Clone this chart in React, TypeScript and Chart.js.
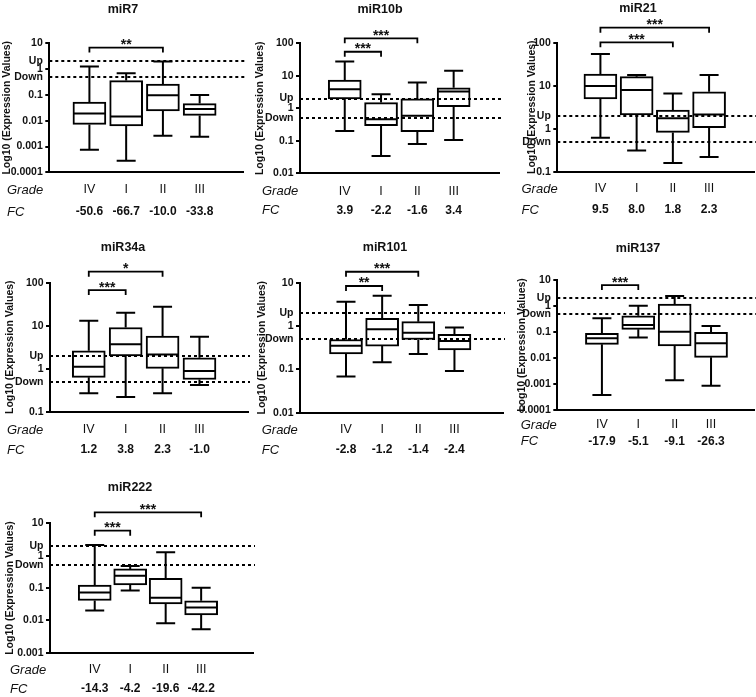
import React, { useEffect, useRef } from 'react';
import { Chart, registerables } from 'chart.js';

Chart.register(...registerables);

const FONT = 'Arial, "Liberation Sans", sans-serif';
Chart.defaults.font.family = FONT;
Chart.defaults.color = '#111';

const GRADES = ['IV', 'I', 'II', 'III'];
const UP = 2;
const DOWN = 0.5;
const Y_TITLE = 'Log10 (Expression Values)';

// miR7
const MIR7_MIN = [0.00074, 0.00028, 0.0026, 0.0024];
const MIR7_Q1 = [0.0072, 0.0063, 0.024, 0.016];
const MIR7_MED = [0.019, 0.0144, 0.096, 0.0285];
const MIR7_Q3 = [0.053, 0.36, 0.26, 0.046];
const MIR7_MAX = [1.25, 0.69, 1.95, 0.1];
const MIR7_FC = ['-50.6', '-66.7', '-10.0', '-33.8'];
const MIR7_TICKS = [0.0001, 0.001, 0.01, 0.1, 1, 10];
const MIR7_SIG: [number, number, number, string][] = [[0, 2, 6.8, '**']];

// miR10b
const MIR10B_MIN = [0.2, 0.034, 0.08, 0.106];
const MIR10B_Q1 = [1.94, 0.29, 0.19, 1.12];
const MIR10B_MED = [3.85, 0.46, 0.59, 3.26];
const MIR10B_Q3 = [7.4, 1.5, 1.94, 4.3];
const MIR10B_MAX = [27.3, 2.7, 6.2, 14.4];
const MIR10B_FC = ['3.9', '-2.2', '-1.6', '3.4'];
const MIR10B_TICKS = [0.01, 0.1, 1, 10, 100];
const MIR10B_SIG: [number, number, number, string][] = [[0, 1, 55, '***'], [0, 2, 142, '***']];

// miR21
const MIR21_MIN = [0.62, 0.31, 0.16, 0.22];
const MIR21_Q1 = [4.9, 2.08, 0.82, 1.05];
const MIR21_MED = [9.8, 7.9, 1.74, 2.15];
const MIR21_Q3 = [18.7, 16.2, 2.7, 7.2];
const MIR21_MAX = [54.5, 17.7, 6.6, 17.7];
const MIR21_FC = ['9.5', '8.0', '1.8', '2.3'];
const MIR21_TICKS = [0.1, 1, 10, 100];
const MIR21_SIG: [number, number, number, string][] = [[0, 2, 102, '***'], [0, 3, 223, '***']];

// miR34a
const MIR34A_MIN = [0.27, 0.22, 0.27, 0.42];
const MIR34A_Q1 = [0.63, 1.97, 1.02, 0.56];
const MIR34A_MED = [1.11, 3.7, 2.15, 0.88];
const MIR34A_Q3 = [2.6, 9.1, 5.75, 1.8];
const MIR34A_MAX = [13.1, 20, 27.7, 5.5];
const MIR34A_FC = ['1.2', '3.8', '2.3', '-1.0'];
const MIR34A_TICKS = [0.1, 1, 10, 100];
const MIR34A_SIG: [number, number, number, string][] = [[0, 1, 67.5, '***'], [0, 2, 180, '*']];

// miR101
const MIR101_MIN = [0.068, 0.145, 0.226, 0.092];
const MIR101_Q1 = [0.226, 0.345, 0.49, 0.28];
const MIR101_MED = [0.35, 0.84, 0.7, 0.45];
const MIR101_Q3 = [0.49, 1.5, 1.26, 0.64];
const MIR101_MAX = [3.65, 5.0, 3.05, 0.93];
const MIR101_FC = ['-2.8', '-1.2', '-1.4', '-2.4'];
const MIR101_TICKS = [0.01, 0.1, 1, 10];
const MIR101_SIG: [number, number, number, string][] = [[0, 1, 8.4, '**'], [0, 2, 17.9, '***']];

// miR137
const MIR137_MIN = [0.00038, 0.062, 0.0014, 0.00086];
const MIR137_Q1 = [0.0336, 0.127, 0.029, 0.0106];
const MIR137_MED = [0.057, 0.186, 0.103, 0.037];
const MIR137_Q3 = [0.089, 0.42, 1.19, 0.097];
const MIR137_MAX = [0.336, 1.03, 2.4, 0.17];
const MIR137_FC = ['-17.9', '-5.1', '-9.1', '-26.3'];
const MIR137_TICKS = [0.0001, 0.001, 0.01, 0.1, 1, 10];
const MIR137_SIG: [number, number, number, string][] = [[0, 1, 6.4, '***']];

// miR222
const MIR222_MIN = [0.02, 0.083, 0.0081, 0.0053];
const MIR222_Q1 = [0.041, 0.124, 0.032, 0.0146];
const MIR222_MED = [0.072, 0.24, 0.05, 0.025];
const MIR222_Q3 = [0.124, 0.39, 0.2, 0.04];
const MIR222_MAX = [2.14, 0.48, 1.27, 0.102];
const MIR222_FC = ['-14.3', '-4.2', '-19.6', '-42.2'];
const MIR222_TICKS = [0.001, 0.01, 0.1, 1, 10];
const MIR222_SIG: [number, number, number, string][] = [[0, 1, 5.9, '***'], [0, 3, 21.9, '***']];

type Geom = {
  cl: number; ct: number; cw: number; ch: number;
  axisLeft: number; axisRight: number; plotTop: number; plotBottom: number;
  firstCenter: number; spacing: number;
  titleX: number; titleY: number; gradeY: number; fcY: number;
  yTitleX: number; gradeLabelX: number;
};

type PanelDef = {
  name: string;
  mins: number[]; q1s: number[]; meds: number[]; q3s: number[]; maxs: number[];
  fc: string[]; ticks: number[]; sig: [number, number, number, string][];
  geom: Geom;
};

const PANELS: PanelDef[] = [
  {
    name: 'miR7', mins: MIR7_MIN, q1s: MIR7_Q1, meds: MIR7_MED, q3s: MIR7_Q3, maxs: MIR7_MAX,
    fc: MIR7_FC, ticks: MIR7_TICKS, sig: MIR7_SIG,
    geom: { cl: 0, ct: 0, cw: 246, ch: 225, axisLeft: 49.3, axisRight: 243, plotTop: 43.3, plotBottom: 172.3,
      firstCenter: 70.5, spacing: 49, titleX: 123, titleY: 10, gradeY: 190, fcY: 212, yTitleX: 7, gradeLabelX: 7 },
  },
  {
    name: 'miR10b', mins: MIR10B_MIN, q1s: MIR10B_Q1, meds: MIR10B_MED, q3s: MIR10B_Q3, maxs: MIR10B_MAX,
    fc: MIR10B_FC, ticks: MIR10B_TICKS, sig: MIR10B_SIG,
    geom: { cl: 250, ct: 0, cw: 252, ch: 225, axisLeft: 300, axisRight: 499, plotTop: 43.3, plotBottom: 173.3,
      firstCenter: 326.5, spacing: 48.4, titleX: 380, titleY: 9.5, gradeY: 191.7, fcY: 210.7, yTitleX: 260, gradeLabelX: 262 },
  },
  {
    name: 'miR21', mins: MIR21_MIN, q1s: MIR21_Q1, meds: MIR21_MED, q3s: MIR21_Q3, maxs: MIR21_MAX,
    fc: MIR21_FC, ticks: MIR21_TICKS, sig: MIR21_SIG,
    geom: { cl: 504, ct: 0, cw: 252, ch: 225, axisLeft: 557.3, axisRight: 754, plotTop: 42.7, plotBottom: 171.7,
      firstCenter: 582, spacing: 48.3, titleX: 638, titleY: 8.5, gradeY: 189, fcY: 210, yTitleX: 531.7, gradeLabelX: 521.5 },
  },
  {
    name: 'miR34a', mins: MIR34A_MIN, q1s: MIR34A_Q1, meds: MIR34A_MED, q3s: MIR34A_Q3, maxs: MIR34A_MAX,
    fc: MIR34A_FC, ticks: MIR34A_TICKS, sig: MIR34A_SIG,
    geom: { cl: 0, ct: 235, cw: 250, ch: 225, axisLeft: 50, axisRight: 248, plotTop: 282.7, plotBottom: 411.7,
      firstCenter: 68.7, spacing: 49.2, titleX: 123, titleY: 248, gradeY: 430, fcY: 450, yTitleX: 10, gradeLabelX: 7 },
  },
  {
    name: 'miR101', mins: MIR101_MIN, q1s: MIR101_Q1, meds: MIR101_MED, q3s: MIR101_Q3, maxs: MIR101_MAX,
    fc: MIR101_FC, ticks: MIR101_TICKS, sig: MIR101_SIG,
    geom: { cl: 250, ct: 235, cw: 256, ch: 225, axisLeft: 300, axisRight: 503, plotTop: 282.7, plotBottom: 412.7,
      firstCenter: 327.5, spacing: 48.2, titleX: 385, titleY: 248, gradeY: 430, fcY: 450, yTitleX: 261.7, gradeLabelX: 261.7 },
  },
  {
    name: 'miR137', mins: MIR137_MIN, q1s: MIR137_Q1, meds: MIR137_MED, q3s: MIR137_Q3, maxs: MIR137_MAX,
    fc: MIR137_FC, ticks: MIR137_TICKS, sig: MIR137_SIG,
    geom: { cl: 504, ct: 235, cw: 252, ch: 225, axisLeft: 557.3, axisRight: 754, plotTop: 280, plotBottom: 410,
      firstCenter: 584, spacing: 48.5, titleX: 638, titleY: 249, gradeY: 425, fcY: 441.7, yTitleX: 521.7, gradeLabelX: 520.7 },
  },
  {
    name: 'miR222', mins: MIR222_MIN, q1s: MIR222_Q1, meds: MIR222_MED, q3s: MIR222_Q3, maxs: MIR222_MAX,
    fc: MIR222_FC, ticks: MIR222_TICKS, sig: MIR222_SIG,
    geom: { cl: 0, ct: 470, cw: 256, ch: 227, axisLeft: 50, axisRight: 253, plotTop: 523.3, plotBottom: 652.7,
      firstCenter: 75.8, spacing: 47.3, titleX: 130, titleY: 488, gradeY: 670, fcY: 689, yTitleX: 10, gradeLabelX: 10 },
  },
];

function Panel({ def }: { def: PanelDef }) {
  const ref = useRef<HTMLCanvasElement>(null);
  const g = def.geom;

  useEffect(() => {
    if (!ref.current) return;
    const w = g.cw;
    const h = g.ch;
    const axL = g.axisLeft - g.cl;
    const axR = g.axisRight - g.cl;
    const pTop = g.plotTop - g.ct;
    const pBot = g.plotBottom - g.ct;
    const xmin = -(g.firstCenter - g.axisLeft) / g.spacing;
    const xmax = xmin + (g.axisRight - g.axisLeft) / g.spacing;
    const gradeSize = 12.5;
    const fcSize = 12;
    const lhG = gradeSize * 1.2;
    const lhF = fcSize * 1.2;
    const gy = g.gradeY - g.ct;
    const fy = g.fcY - g.ct;
    const hx = gy - pBot + lhG / 2;
    const padX = gy - pBot - lhG / 2;
    const x2top = pBot + hx;
    const hx2 = fy - x2top + lhF / 2;
    const padX2 = fy - x2top - lhF / 2;
    const padBottom = Math.max(0, h - pBot - hx - hx2);
    const yTitleSize = 10.5;
    const yTitlePad = Math.max(0, g.yTitleX - g.cl - (yTitleSize * 1.2) / 2);

    const extras = {
      id: 'boxExtras',
      afterDatasetsDraw(chart: any) {
        const ctx = chart.ctx;
        const ys = chart.scales.y;
        const meta = chart.getDatasetMeta(0);
        const area = chart.chartArea;
        ctx.save();
        ctx.strokeStyle = '#000';
        ctx.fillStyle = '#111';
        ctx.lineWidth = 2;
        const cap = 9.5;
        meta.data.forEach((bar: any, i: number) => {
          const x = bar.x;
          const half = bar.width / 2;
          const pMax = ys.getPixelForValue(def.maxs[i]);
          const pMin = ys.getPixelForValue(def.mins[i]);
          const pQ1 = ys.getPixelForValue(def.q1s[i]);
          const pQ3 = ys.getPixelForValue(def.q3s[i]);
          const pMed = ys.getPixelForValue(def.meds[i]);
          ctx.beginPath();
          ctx.moveTo(x, pQ3);
          ctx.lineTo(x, pMax);
          ctx.moveTo(x, pQ1);
          ctx.lineTo(x, pMin);
          ctx.moveTo(x - cap, pMax);
          ctx.lineTo(x + cap, pMax);
          ctx.moveTo(x - cap, pMin);
          ctx.lineTo(x + cap, pMin);
          ctx.moveTo(x - half + 1, pMed);
          ctx.lineTo(x + half - 1, pMed);
          ctx.stroke();
        });
        // threshold lines
        ctx.setLineDash([3, 3]);
        ctx.lineWidth = 2;
        [UP, DOWN].forEach((v) => {
          const py = Math.round(ys.getPixelForValue(v));
          ctx.beginPath();
          ctx.moveTo(area.left, py);
          ctx.lineTo(area.right + 2, py);
          ctx.stroke();
        });
        ctx.setLineDash([]);
        // significance brackets
        ctx.lineWidth = 1.8;
        def.sig.forEach(([a, b, v, label]) => {
          const xa = meta.data[a].x;
          const xb = meta.data[b].x;
          const py = ys.getPixelForValue(v);
          ctx.beginPath();
          ctx.moveTo(xa, py + 5);
          ctx.lineTo(xa, py);
          ctx.lineTo(xb, py);
          ctx.lineTo(xb, py + 5);
          ctx.stroke();
          ctx.font = `bold 14px ${FONT}`;
          ctx.textAlign = 'center';
          ctx.textBaseline = 'alphabetic';
          ctx.fillText(label, (xa + xb) / 2, py + 1.5);
        });
        // panel title
        ctx.font = `bold 12.5px ${FONT}`;
        ctx.textAlign = 'center';
        ctx.textBaseline = 'middle';
        ctx.fillText(def.name, g.titleX - g.cl, g.titleY - g.ct);
        // row labels
        ctx.font = `italic 13px ${FONT}`;
        ctx.textAlign = 'left';
        ctx.fillText('Grade', g.gradeLabelX - g.cl, gy);
        ctx.fillText('FC', g.gradeLabelX - g.cl, fy);
        ctx.restore();
      },
    };

    const idx = GRADES.map((_, i) => i);
    const chart = new Chart(ref.current, {
      type: 'bar',
      data: {
        datasets: [
          {
            data: idx.map((i) => ({ x: i, y: [def.q1s[i], def.q3s[i]] })) as any,
            backgroundColor: '#ffffff',
            borderColor: '#000000',
            borderWidth: 2,
            borderSkipped: false,
            barThickness: 33,
          },
        ],
      },
      options: {
        responsive: false,
        maintainAspectRatio: false,
        animation: false,
        events: [],
        layout: { padding: { left: 0, top: pTop, right: w - axR, bottom: padBottom } },
        plugins: { legend: { display: false }, tooltip: { enabled: false }, title: { display: false } },
        scales: {
          x: {
            type: 'linear',
            position: 'bottom',
            min: xmin,
            max: xmax,
            grid: { display: false, drawTicks: false },
            border: { display: true, color: '#000', width: 2 },
            ticks: {
              autoSkip: false,
              maxRotation: 0,
              padding: padX,
              color: '#111',
              font: { size: gradeSize, family: FONT },
              callback: (v: any) => GRADES[Number(v)] ?? '',
            },
            afterBuildTicks: (s: any) => {
              s.ticks = idx.map((i) => ({ value: i }));
            },
            afterFit: (s: any) => {
              s.height = hx;
            },
          },
          x2: {
            type: 'linear',
            position: 'bottom',
            min: xmin,
            max: xmax,
            grid: { display: false, drawTicks: false },
            border: { display: false },
            ticks: {
              autoSkip: false,
              maxRotation: 0,
              padding: padX2,
              color: '#111',
              font: { size: fcSize, weight: 'bold', family: FONT },
              callback: (v: any) => def.fc[Number(v)] ?? '',
            },
            afterBuildTicks: (s: any) => {
              s.ticks = idx.map((i) => ({ value: i }));
            },
            afterFit: (s: any) => {
              s.height = hx2;
            },
          },
          y: {
            type: 'logarithmic',
            position: 'left',
            min: def.ticks[0],
            max: def.ticks[def.ticks.length - 1],
            grid: {
              display: true,
              drawOnChartArea: false,
              drawTicks: true,
              tickLength: 4,
              lineWidth: 2,
              color: (c: any) =>
                c.tick && (c.tick.value === UP || c.tick.value === DOWN) ? 'rgba(0,0,0,0)' : '#000',
            },
            border: { display: true, color: '#000', width: 2 },
            ticks: {
              autoSkip: false,
              padding: 2.5,
              color: '#111',
              font: { size: 10.5, weight: 'bold', family: FONT },
              callback: (v: any) => (v === UP ? 'Up' : v === DOWN ? 'Down' : String(v)),
            },
            afterBuildTicks: (s: any) => {
              s.ticks = [...def.ticks, DOWN, UP].sort((a, b) => a - b).map((v) => ({ value: v }));
            },
            title: {
              display: true,
              text: Y_TITLE,
              color: '#111',
              font: { size: yTitleSize, weight: 'bold', family: FONT },
              padding: { top: yTitlePad, bottom: 0 },
            },
            afterFit: (s: any) => {
              s.width = axL;
            },
          },
        },
      } as any,
      plugins: [extras],
    });
    return () => chart.destroy();
  }, []);

  return (
    <canvas
      ref={ref}
      width={g.cw}
      height={g.ch}
      style={{ position: 'absolute', left: g.cl, top: g.ct, width: g.cw, height: g.ch }}
    />
  );
}

export default function App() {
  return (
    <div style={{ position: 'absolute', left: 0, top: 0, width: 756, height: 697, background: '#fff' }}>
      {PANELS.map((p) => (
        <Panel key={p.name} def={p} />
      ))}
    </div>
  );
}
